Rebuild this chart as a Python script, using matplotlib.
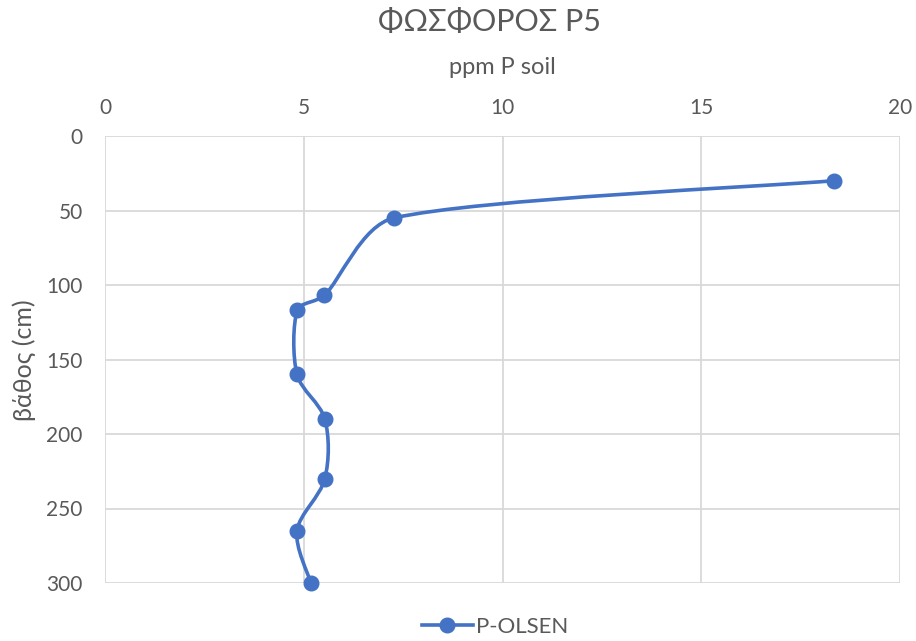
import numpy as np
import matplotlib
matplotlib.use("Agg")
import matplotlib.pyplot as plt
from matplotlib.path import Path
from matplotlib.patches import PathPatch
from matplotlib.lines import Line2D

plt.rcParams['font.family'] = ['Lato', 'DejaVu Sans']

# Data
series_name = "P-OLSEN"
ppm = [18.34, 7.27, 5.52, 4.84, 4.83, 5.53, 5.53, 4.83, 5.18]
depth = [30, 55, 107, 117, 160, 190, 230, 265, 300]
x_ticks = [0, 5, 10, 15, 20]
y_ticks = [0, 50, 100, 150, 200, 250, 300]
title = "ΦΩΣΦΟΡΟΣ P5"
xlabel = "ppm P soil"
ylabel = "βάθος (cm)"

W, H = 916, 641
fig = plt.figure(figsize=(W / 100, H / 100), dpi=100)
L, R, T, B = 105, 900, 136, 583
ax = fig.add_axes([L / W, 1 - B / H, (R - L) / W, (B - T) / H])

text_color = "#595959"
grid_color = "#D9D9D9"
line_color = "#4472C4"

ax.set_xlim(0, 20)
ax.set_ylim(300, 0)
ax.set_xticks(x_ticks)
ax.set_yticks(y_ticks)
ax.xaxis.tick_top()
ax.tick_params(axis='both', length=0, labelsize=15, colors=text_color)
ax.tick_params(axis='x', pad=13)
ax.tick_params(axis='y', pad=16)
for s in ax.spines.values():
    s.set_visible(False)
ax.grid(True, color=grid_color, linewidth=1.3)
ax.set_axisbelow(True)

# Smoothed line (Excel-like): Catmull-Rom Bezier handles, shortened when the
# neighbouring segment is much longer. Computed in display space.
tr = ax.transData
pts = tr.transform(np.column_stack([ppm, depth]).astype(float))
n = len(pts)
verts = [pts[0]]
codes = [Path.MOVETO]
for i in range(n - 1):
    p0 = pts[i - 1] if i > 0 else pts[i]
    p1 = pts[i]
    p2 = pts[i + 1]
    p3 = pts[i + 2] if i + 2 < n else pts[i + 1]
    d01 = np.linalg.norm(p1 - p0)
    d12 = np.linalg.norm(p2 - p1)
    d23 = np.linalg.norm(p3 - p2)
    f1 = min(1.0, 2 * d12 / (d01 + d12))
    f2 = min(1.0, 2 * d12 / (d12 + d23))
    c1 = p1 + (p2 - p0) / 6.0 * f1
    c2 = p2 - (p3 - p1) / 6.0 * f2
    verts += [c1, c2, p2]
    codes += [Path.CURVE4] * 3
verts = tr.inverted().transform(np.array(verts))
patch = PathPatch(Path(verts, codes), facecolor='none', edgecolor=line_color,
                  linewidth=2.6, capstyle='round', joinstyle='round', zorder=3)
ax.add_patch(patch)
ax.plot(ppm, depth, linestyle='none', marker='o', markersize=10.5,
        color=line_color, zorder=4, clip_on=False)

fig.text(490 / W, 1 - 22 / H, title, ha='center', va='center', fontsize=22, color=text_color)
fig.text(502 / W, 1 - 68 / H, xlabel, ha='center', va='center', fontsize=17, color=text_color)
fig.text(24 / W, 1 - 360 / H, ylabel, ha='center', va='center', rotation=90,
         fontsize=18, color=text_color)

handle = Line2D([], [], color=line_color, linewidth=2.6, marker='o', markersize=10.5)
fig.legend([handle], [series_name], loc='center', bbox_to_anchor=(495 / W, 1 - 627 / H),
           frameon=False, fontsize=16, labelcolor=text_color, handlelength=2.3,
           handletextpad=0.15)

fig.savefig("out.png", dpi=100)
